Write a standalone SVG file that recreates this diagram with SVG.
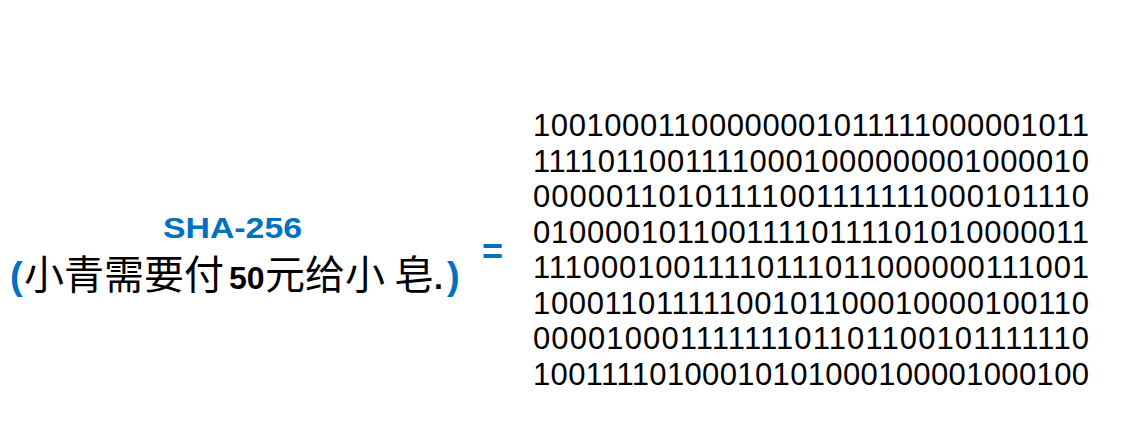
<svg xmlns="http://www.w3.org/2000/svg" width="1133" height="443" viewBox="0 0 1133 443">
<style>
.bin{font-family:"Liberation Sans",Arial,sans-serif;font-size:31px;fill:#000}
.blue{fill:#0070C0;font-family:"Liberation Sans",Arial,sans-serif;font-weight:bold}
.cjk{font-family:"Noto Sans CJK SC","Noto Sans",sans-serif;font-size:40px;fill:#000}
.bold{font-family:"Liberation Sans",Arial,sans-serif;font-weight:bold;font-size:32px;fill:#000}
</style>
<rect width="1133" height="443" fill="#fff"/>
<g id="label">
<text class="blue" x="232.5" y="238" font-size="30" text-anchor="middle" textLength="139" lengthAdjust="spacingAndGlyphs">SHA-256</text>
<text y="289"><tspan class="blue" font-size="38" x="10">(</tspan><tspan class="cjk" x="24">小青需要付</tspan><tspan class="bold" x="229">50</tspan><tspan class="cjk" x="265">元给小 </tspan><tspan class="cjk" x="394">皂</tspan><tspan class="bold" x="434">.</tspan><tspan class="blue" font-size="38" x="447">)</tspan></text>
</g>
<g id="equals">
<text class="blue" x="492.5" y="264" font-size="36" text-anchor="middle">=</text>
</g>
<g id="hash">
<text class="bin" x="533" y="136" textLength="556" lengthAdjust="spacing">10010001100000001011111000001011</text>
<text class="bin" x="533" y="171.6" textLength="556" lengthAdjust="spacing">11110110011110001000000001000010</text>
<text class="bin" x="533" y="207.1" textLength="556" lengthAdjust="spacing">00000110101111001111111000101110</text>
<text class="bin" x="533" y="242.7" textLength="556" lengthAdjust="spacing">01000010110011110111101010000011</text>
<text class="bin" x="533" y="278.3" textLength="556" lengthAdjust="spacing">11100010011110111011000000111001</text>
<text class="bin" x="533" y="313.9" textLength="556" lengthAdjust="spacing">10001101111100101100010000100110</text>
<text class="bin" x="533" y="349.4" textLength="556" lengthAdjust="spacing">00001000111111101101100101111110</text>
<text class="bin" x="533" y="385" textLength="556" lengthAdjust="spacing">10011110100010101000100001000100</text>
</g>
</svg>
